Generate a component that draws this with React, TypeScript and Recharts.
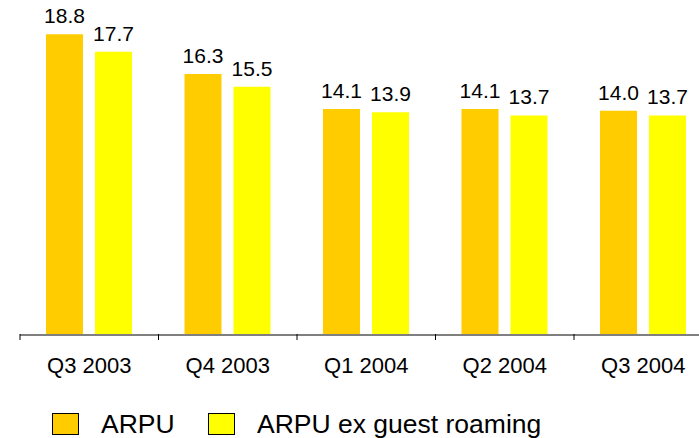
import React from 'react';
import { BarChart, Bar, XAxis, YAxis, LabelList, Legend } from 'recharts';

const categories = ['Q3 2003', 'Q4 2003', 'Q1 2004', 'Q2 2004', 'Q3 2004'];
const arpu = [18.8, 16.3, 14.1, 14.1, 14.0];
const arpuExRoaming = [17.7, 15.5, 13.9, 13.7, 13.7];
const seriesNames = ['ARPU', 'ARPU ex guest roaming'];
const seriesColors = ['#FFCC00', '#FFFF00'];
const boundaryTicks = [0, 1, 2, 3, 4, 5];

const data = categories.map((c, i) => ({ cat: c, arpu: arpu[i], ex: arpuExRoaming[i], pos: i + 0.5 }));

const FONT = '"Liberation Sans", Arial, sans-serif';

const LegendContent = () => (
  <div style={{ position: 'relative', width: 600, height: 30, fontFamily: FONT }}>
    {seriesNames.map((name, i) => {
      const left = i === 0 ? 0 : 156;
      return (
        <React.Fragment key={name}>
          <div
            style={{
              position: 'absolute',
              left,
              top: 3,
              width: 27,
              height: 22,
              boxSizing: 'border-box',
              border: '1px solid #000',
              background: seriesColors[i],
            }}
          />
          <div
            style={{
              position: 'absolute',
              left: left + 49,
              top: -1,
              fontSize: 26.5,
              lineHeight: 'normal',
              color: '#000',
              whiteSpace: 'nowrap',
            }}
          >
            {name}
          </div>
        </React.Fragment>
      );
    })}
  </div>
);

export default function App() {
  return (
    <div
      style={{
        position: 'absolute',
        left: 0,
        top: 0,
        width: 699,
        height: 438,
        overflow: 'hidden',
        background: '#fff',
      }}
    >
      <BarChart
        width={730}
        height={438}
        data={data}
        margin={{ top: 15, right: 17.5, bottom: 102, left: 20 }}
        barSize={37}
        barGap={12}
        style={{ fontFamily: FONT }}
      >
        <YAxis hide domain={[0, 20]} />
        <XAxis
          xAxisId="cat"
          dataKey="cat"
          height={1}
          tickLine={false}
          tickSize={0}
          tickMargin={22}
          axisLine={{ stroke: '#000', strokeWidth: 1 }}
          tick={{ fill: '#000', fontSize: 22, fontFamily: FONT }}
          interval={0}
        />
        <XAxis
          xAxisId="bnd"
          dataKey="pos"
          type="number"
          domain={[0, 5]}
          ticks={boundaryTicks}
          allowDataOverflow
          height={1}
          axisLine={false}
          tickLine={{ stroke: '#000', strokeWidth: 1 }}
          tickSize={6}
          tickFormatter={() => ''}
        />
        <Legend
          verticalAlign="middle"
          layout="horizontal"
          content={<LegendContent />}
          wrapperStyle={{ position: 'absolute', left: 52, top: 410, width: 600, height: 30 }}
        />
        <Bar xAxisId="cat" dataKey="arpu" name={seriesNames[0]} fill={seriesColors[0]} isAnimationActive={false}>
          <LabelList
            dataKey="arpu"
            position="top"
            offset={11}
            fill="#000"
            fontSize={21}
            fontFamily={FONT}
            formatter={(v: number) => v.toFixed(1)}
          />
        </Bar>
        <Bar xAxisId="cat" dataKey="ex" name={seriesNames[1]} fill={seriesColors[1]} isAnimationActive={false}>
          <LabelList
            dataKey="ex"
            position="top"
            offset={11}
            fill="#000"
            fontSize={21}
            fontFamily={FONT}
            formatter={(v: number) => v.toFixed(1)}
          />
        </Bar>
      </BarChart>
    </div>
  );
}
